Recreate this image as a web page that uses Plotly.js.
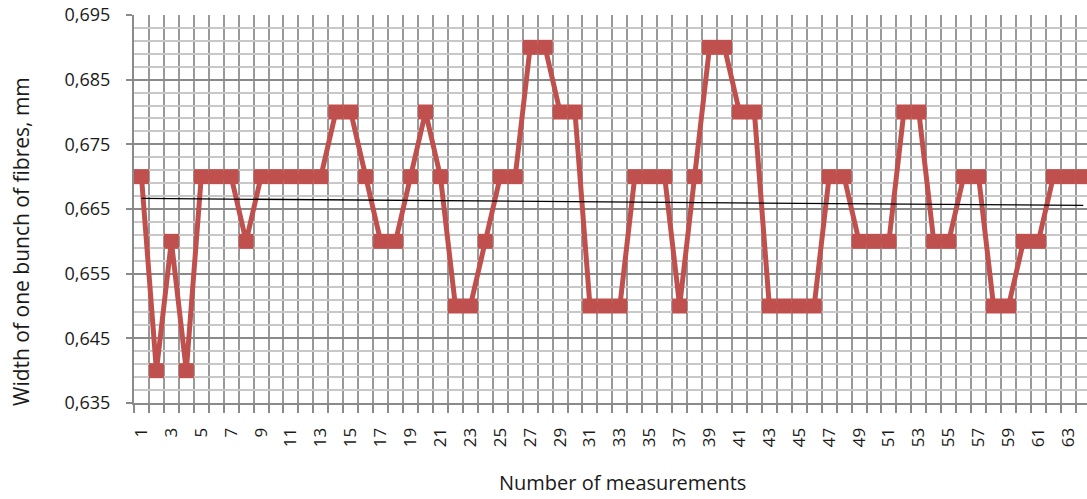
<!DOCTYPE html>
<html>
<head>
<meta charset="utf-8">
<script src="https://cdn.plot.ly/plotly-3.0.1.min.js"></script>
<style>html,body{margin:0;padding:0;background:#fff;}#chart{width:1087px;height:499px;}</style>
</head>
<body>
<div id="chart"></div>
<script>
// Measurement numbers
const measurements = [];
for (let i = 1; i <= 64; i++) measurements.push(i);

// Width of one bunch of fibres, mm
const widths = [
  0.670, 0.640, 0.660, 0.640, 0.670, 0.670, 0.670, 0.660, 0.670, 0.670,
  0.670, 0.670, 0.670, 0.680, 0.680, 0.670, 0.660, 0.660, 0.670, 0.680,
  0.670, 0.650, 0.650, 0.660, 0.670, 0.670, 0.690, 0.690, 0.680, 0.680,
  0.650, 0.650, 0.650, 0.670, 0.670, 0.670, 0.650, 0.670, 0.690, 0.690,
  0.680, 0.680, 0.650, 0.650, 0.650, 0.650, 0.670, 0.670, 0.660, 0.660,
  0.660, 0.680, 0.680, 0.660, 0.660, 0.670, 0.670, 0.650, 0.650, 0.660,
  0.660, 0.670, 0.670, 0.670
];

// Tick labels on the category axis (every second measurement)
const xTickVals = [];
for (let i = 1; i <= 63; i += 2) xTickVals.push(i);
const xTickText = xTickVals.map(String);

const xTitle = 'Number of measurements';
const yTitle = 'Width of one bunch of fibres, mm';

// Linear trend line (least squares fit of the series)
const n = measurements.length;
let sx = 0, sy = 0, sxx = 0, sxy = 0;
for (let i = 0; i < n; i++) {
  sx += measurements[i]; sy += widths[i];
  sxx += measurements[i] * measurements[i]; sxy += measurements[i] * widths[i];
}
const slope = (n * sxy - sx * sy) / (n * sxx - sx * sx);
const intercept = (sy - slope * sx) / n;
const trendX = [measurements[0], measurements[n - 1]];
const trendY = trendX.map(x => intercept + slope * x);

const red = '#C0504D';
const font = '"Open Sans", "Liberation Sans", sans-serif';
const textColor = '#1a1a1a';

const data = [
  {
    x: measurements, y: widths, type: 'scatter', mode: 'lines+markers',
    line: {color: red, width: 5},
    marker: {symbol: 'square', size: 15, color: red, line: {width: 0}},
    cliponaxis: true, showlegend: false, hoverinfo: 'x+y'
  },
  {
    x: trendX, y: trendY, type: 'scatter', mode: 'lines',
    line: {color: '#000000', width: 1.3},
    showlegend: false, hoverinfo: 'skip'
  }
];

const layout = {
  width: 1087, height: 499,
  margin: {l: 134, r: 0, t: 15, b: 96},
  paper_bgcolor: '#ffffff', plot_bgcolor: '#ffffff',
  separators: ',.',
  font: {family: font, color: textColor, size: 16},
  xaxis: {
    type: 'linear', range: [0.5, 64.25], fixedrange: true,
    tickmode: 'array', tickvals: xTickVals, ticktext: xTickText,
    tickangle: -90, ticks: '', showgrid: false, zeroline: false,
    tickfont: {family: font, size: 17, color: textColor},
    ticklabelstandoff: 16,
    showline: true, linecolor: '#8a8a8a', linewidth: 2,
    minor: {tickmode: 'linear', tick0: 0.5, dtick: 1, showgrid: true,
            gridcolor: '#999999', gridwidth: 2, ticks: 'outside', ticklen: 8,
            tickcolor: '#8a8a8a', tickwidth: 2}
  },
  yaxis: {
    range: [0.635, 0.695], fixedrange: true,
    tickmode: 'linear', tick0: 0.635, dtick: 0.01, tickformat: '.3f',
    ticks: 'outside', ticklen: 6, tickcolor: '#8a8a8a', tickwidth: 2,
    showgrid: true, gridcolor: '#8a8a8a', gridwidth: 2, zeroline: false,
    showline: true, linecolor: '#8a8a8a', linewidth: 2,
    tickfont: {family: font, size: 18, color: textColor},
    ticklabelstandoff: 12,
    minor: {tickmode: 'linear', tick0: 0.635, dtick: 0.002, showgrid: true,
            gridcolor: '#c8c8c8', gridwidth: 2, ticks: ''}
  },
  annotations: [
    {text: xTitle, xref: 'paper', yref: 'paper', x: 0.513, y: -0.205,
     xanchor: 'center', yanchor: 'middle', showarrow: false,
     font: {family: font, size: 20, color: textColor}},
    {text: yTitle, xref: 'paper', yref: 'paper', x: -0.1186, y: 0.4175,
     xanchor: 'center', yanchor: 'middle', showarrow: false, textangle: -90,
     font: {family: font, size: 21, color: textColor}}
  ]
};

Plotly.newPlot('chart', data, layout, {displayModeBar: false, staticPlot: true});
</script>
</body>
</html>
